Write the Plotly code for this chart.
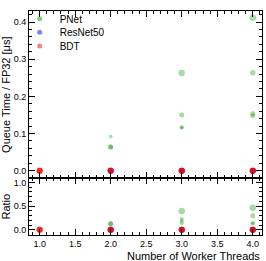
import plotly.graph_objects as go

# ---- data ----
pnet_threads = [2, 2, 2, 3, 3, 3, 3, 4, 4, 4, 4]
pnet_queue = [0.064, 0.064, 0.092, 0.263, 0.150, 0.116, 0.116, 0.412, 0.264, 0.148, 0.153]
pnet_ratio_threads = [2, 2, 3, 3, 3, 3, 4, 4, 4, 4]
pnet_ratio = [0.13, 0.13, 0.40, 0.23, 0.185, 0.14, 0.465, 0.30, 0.137, 0.137]

resnet_threads = [2, 3, 4]
resnet_queue = [0.0, 0.0, 0.0]
resnet_ratio = [0.0, 0.0, 0.0]

bdt_threads = [1, 2, 3, 4]
bdt_queue = [0.0, 0.0, 0.0, 0.0]
bdt_ratio = [0.0, 0.0, 0.0, 0.0]

series_names = ["PNet", "ResNet50", "BDT"]

# ---- styles ----
pnet_sizes = [5, 5, 3.5, 6.5, 5, 4, 4, 6.5, 5.5, 5, 5]
pnet_ratio_sizes = [5, 5, 6.5, 4, 4, 4, 6.5, 5, 4, 4]
GREEN = "rgba(0,150,0,0.5)"
BLUE = "rgba(0,0,255,0.5)"
RED = "rgba(255,0,0,0.5)"
FONT = "Liberation Sans, Arial, sans-serif"

fig = go.Figure()

def pts(x, y, color, size, xa, ya, n=1):
    for _ in range(n):
        fig.add_trace(go.Scatter(x=x, y=y, mode="markers", xaxis=xa, yaxis=ya,
                                 marker=dict(color=color, size=size, line=dict(width=0)),
                                 showlegend=False, hoverinfo="skip"))

# top panel
pts(pnet_threads, pnet_queue, GREEN, pnet_sizes, "x", "y")
pts(resnet_threads, resnet_queue, BLUE, 6, "x", "y", 2)
pts(bdt_threads, bdt_queue, RED, 6, "x", "y", 3)
# ratio panel
pts(pnet_ratio_threads, pnet_ratio, GREEN, pnet_ratio_sizes, "x2", "y2")
pts(resnet_threads, resnet_ratio, BLUE, 6, "x2", "y2", 2)
pts(bdt_threads, bdt_ratio, RED, 6, "x2", "y2", 3)

# legend entries (one legend per row for tight spacing)
legend_ids = ["legend", "legend2", "legend3"]
for name, col, lid in zip(series_names, [GREEN, BLUE, RED], legend_ids):
    fig.add_trace(go.Scatter(x=[None], y=[None], mode="markers", name=name, legend=lid,
                             marker=dict(color=col, size=5, line=dict(width=0))))

ax_common = dict(showline=True, linecolor="black", linewidth=1, mirror="allticks",
                 ticks="inside", ticklen=6, tickwidth=1, tickcolor="black",
                 showgrid=False, zeroline=False,
                 tickfont=dict(family=FONT, size=9, color="black"))

def leg(ypx):
    return dict(x=-0.04, y=(235 - ypx) / 231, xanchor="left", yanchor="middle",
                font=dict(family=FONT, size=10, color="black"),
                bgcolor="rgba(0,0,0,0)", itemwidth=30)

fig.update_layout(
    width=266, height=261,
    margin=dict(l=29, r=4, t=4, b=26),
    plot_bgcolor="white", paper_bgcolor="white",
    font=dict(family=FONT, color="black"),
    showlegend=True,
    legend=leg(12), legend2=leg(26), legend3=leg(40),
    xaxis=dict(domain=[0, 1], anchor="y", range=[0.85, 4.13], dtick=0.5, tick0=0,
               showticklabels=False,
               minor=dict(ticks="inside", ticklen=3, dtick=0.1, tickcolor="black"),
               **ax_common),
    yaxis=dict(domain=[0.2524, 1], anchor="x", range=[-0.021, 0.43], dtick=0.1,
               tickformat=".1f",
               minor=dict(ticks="inside", ticklen=3, dtick=0.02, tickcolor="black"),
               title=dict(text="Queue Time / FP32 [μs]", font=dict(family=FONT, size=11), standoff=4),
               automargin=False,
               **ax_common),
    xaxis2=dict(domain=[0, 1], anchor="y2", range=[0.85, 4.13], dtick=0.5, tick0=0,
                tickformat=".1f",
                minor=dict(ticks="inside", ticklen=3, dtick=0.1, tickcolor="black"),
                automargin=False,
                **ax_common),
    yaxis2=dict(domain=[0, 0.2524], anchor="x2", range=[-0.109, 1.086], dtick=0.5,
                tickformat=".1f",
                minor=dict(ticks="inside", ticklen=3, dtick=0.1, tickcolor="black"),
                title=dict(text="Ratio", font=dict(family=FONT, size=11), standoff=4),
                automargin=False,
                **ax_common),
)

fig.add_annotation(text="Number of Worker Threads", xref="paper", yref="paper",
                   x=1, y=0, yshift=-13, xanchor="right", yanchor="top", showarrow=False,
                   font=dict(family=FONT, size=11, color="black"))

fig.write_html("out.html", config={"displayModeBar": False},
               post_script="document.body.style.margin='0';document.body.style.padding='0';")
